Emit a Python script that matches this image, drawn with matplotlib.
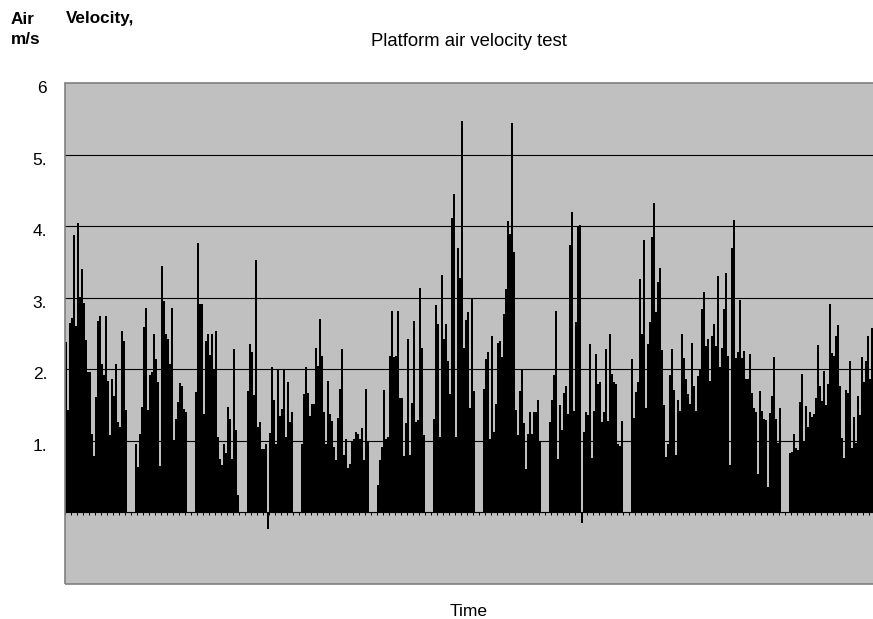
import matplotlib
matplotlib.use('Agg')
import matplotlib.pyplot as plt
import matplotlib.transforms as mtransforms
from matplotlib.patches import Rectangle
import numpy as np

plt.rcParams['font.family'] = ['Liberation Sans', 'DejaVu Sans']

# ---- data: air velocity (m/s) per time step ----
burst_1 = [2.38, 1.43, 2.65, 2.71, 3.88, 2.60, 4.04, 3.01, 3.40, 2.92, 2.41, 1.96, 1.96, 1.10, 0.79, 1.61,
           2.68, 2.75, 2.08, 1.92, 2.75, 1.83, 1.08, 1.87, 1.63, 2.08, 1.26, 1.20, 2.54, 2.40, 1.43]
burst_2 = [0.95, 0.63, 1.09, 1.47, 2.59, 2.86, 1.43, 1.92, 1.96, 2.49, 2.15, 1.82, 0.65, 3.44, 2.96, 2.50,
           2.43, 2.08, 2.85, 1.01, 1.31, 1.54, 1.81, 1.76, 1.45, 1.40]
burst_3 = [1.68, 3.77, 2.91, 2.91, 1.37, 2.39, 2.49, 2.20, 2.50, 2.00, 2.53, 1.06, 0.75, 0.66, 0.96, 0.83,
           1.47, 1.31, 0.75, 2.28, 1.15, 0.25]
burst_4 = [1.70, 2.35, 2.24, 1.64, 3.53, 1.20, 1.26, 0.89, 0.89, 0.95, -0.23, 1.11, 2.03, 1.57, 0.95, 1.99,
           1.35, 1.45, 1.99, 1.06, 1.82, 1.27, 1.41]
burst_5 = [0.95, 1.65, 2.03, 1.67, 1.35, 1.51, 1.51, 2.30, 2.05, 2.70, 2.18, 1.40, 0.95, 1.84, 1.38, 1.28,
           0.92, 0.73, 1.32, 1.73, 2.28, 0.80, 1.03, 0.62, 0.67, 1.00, 1.03, 1.12, 1.10, 1.03, 1.18, 0.73,
           1.73, 0.98]
burst_6 = [0.39, 0.73, 0.92, 1.71, 1.03, 1.06, 2.19, 2.82, 2.17, 2.18, 2.82, 1.60, 1.60, 0.79, 1.25, 2.43,
           0.80, 1.53, 2.67, 1.27, 1.29, 3.14, 2.30, 1.08]
burst_7 = [1.30, 2.90, 2.63, 1.06, 3.32, 2.43, 2.63, 2.12, 1.65, 4.12, 4.45, 1.06, 3.69, 3.28, 5.47, 2.30,
           2.69, 2.80, 1.46, 2.98, 1.69]
burst_8 = [1.72, 2.15, 2.24, 1.03, 2.47, 1.13, 1.52, 2.37, 2.40, 2.17, 2.77, 3.12, 4.07, 3.89, 5.44, 3.64,
           1.43, 1.08, 1.70, 2.01, 1.25, 0.60, 1.09, 1.40, 1.10, 1.40, 1.40, 1.57, 1.00]
burst_9 = [1.26, 1.57, 1.92, 2.81, 0.74, 1.50, 1.15, 1.67, 1.77, 1.37, 3.73, 4.20, 1.42, 2.66, 3.99, 4.02,
           -0.15, 1.13, 1.41, 1.36, 2.35, 0.76, 1.42, 2.21, 1.80, 1.82, 1.27, 1.40, 2.28, 1.28, 2.49, 1.94,
           1.82, 1.80, 0.96, 0.93, 1.28]
burst_10 = [2.15, 1.32, 1.68, 1.82, 3.26, 2.50, 3.80, 1.46, 2.36, 2.66, 3.85, 4.33, 2.80, 3.22, 3.42, 2.27,
            1.50, 0.78, 0.96, 1.92, 2.28, 1.71, 0.80, 1.57, 1.42, 2.49, 2.16, 1.87, 1.66, 1.52, 2.37, 1.76,
            1.42, 1.90, 2.00, 2.84, 3.08, 2.33, 2.43, 1.83, 2.46, 2.63, 2.32, 3.30, 2.03, 2.30, 2.84, 3.35,
            2.18, 0.66, 3.70, 4.08, 2.16, 2.24, 2.97, 2.16, 2.26, 1.87, 1.87, 2.21, 1.67, 1.46, 1.40, 0.53,
            1.69, 1.42, 1.31, 1.29, 0.36, 1.39, 1.63, 2.17, 1.31, 0.97, 1.46]
burst_11 = [0.83, 0.85, 1.09, 0.90, 0.87, 1.54, 1.94, 0.98, 1.49, 1.19, 1.40, 1.33, 1.38, 1.60, 2.34, 1.76,
            1.56, 1.97, 1.50, 1.80, 2.91, 2.23, 2.18, 2.47, 2.62, 1.76, 1.04, 0.76, 1.71, 1.67, 2.12, 0.90,
            1.33, 0.97, 1.62, 1.36, 2.17, 1.82, 2.12, 2.47, 1.86, 2.57]
pause = [0.0, 0.0, 0.0, 0.0]   # zero readings between bursts

title = "Platform air velocity test"
x_title = "Time"
y_title_parts = ["Air", "Velocity,", "m/s"]
y_ticks = [1, 2, 3, 4, 5, 6]
y_tick_labels = ["1.", "2.", "3.", "4.", "5.", "6"]

bursts = [burst_1, burst_2, burst_3, burst_4, burst_5, burst_6,
          burst_7, burst_8, burst_9, burst_10, burst_11]
velocity = []
for i, b in enumerate(bursts):
    if i:
        velocity += pause
    velocity += b
n = len(velocity)
x = np.arange(n)

# ---- layout ----
W, H = 873, 619
fig = plt.figure(figsize=(W / 100, H / 100), dpi=100)
left_px, top_px, bottom_px, right_px = 65.3, 83, 584, 880
step_px = 2.0
ax = fig.add_axes([left_px / W, 1 - bottom_px / H,
                   (right_px - left_px) / W, (bottom_px - top_px) / H])
ax.set_facecolor('#C0C0C0')
ax.set_xlim(-0.5, -0.5 + (right_px - left_px) / step_px)
ax.set_ylim(-1, 6)

for v in y_ticks[:-1]:
    ax.axhline(v, color='black', lw=0.8, zorder=1)

ax.bar(x, velocity, width=0.88, color='black', linewidth=0, zorder=2)

# category axis crossing at zero
for s in ['left', 'right', 'top']:
    ax.spines[s].set_visible(False)
ax.spines['bottom'].set_position(('data', 0))
ax.spines['bottom'].set_color('black')
ax.spines['bottom'].set_linewidth(0.8)
ax.spines['bottom'].set_zorder(3)
ax.set_xticks(np.arange(-0.5, n + 1, 3))
ax.tick_params(axis='x', direction='out', length=2.5, width=0.7, color='black', labelbottom=False)

ax.set_yticks(y_ticks)
ax.set_yticklabels(y_tick_labels)
ax.tick_params(axis='y', length=0, pad=13, labelsize=12.5)
offset = mtransforms.ScaledTranslation(0, -3 / 72, fig.dpi_scale_trans)
for lab in ax.get_yticklabels():
    lab.set_transform(lab.get_transform() + offset)

# plot area border
ax.add_patch(Rectangle((0, 0), 1, 1, transform=ax.transAxes, fill=False,
                       edgecolor='#808080', lw=1.2, zorder=4, clip_on=False))

fig.text(469 / W, 1 - 41 / H, title, ha='center', va='center', fontsize=13.3)
fig.text(469 / W, 1 - 612 / H, x_title, ha='center', va='center', fontsize=12.5)
fig.text(11 / W, 1 - 19 / H, y_title_parts[0], ha='left', va='center', fontsize=12.3, weight='bold')
fig.text(66 / W, 1 - 19 / H, y_title_parts[1], ha='left', va='center', fontsize=12.3, weight='bold')
fig.text(11 / W, 1 - 39 / H, y_title_parts[2], ha='left', va='center', fontsize=12.3, weight='bold')

fig.savefig('out.png', dpi=100)
